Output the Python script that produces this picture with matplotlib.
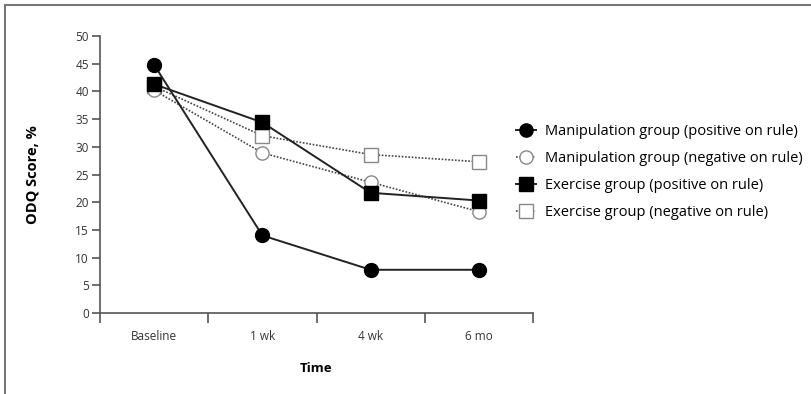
import matplotlib.pyplot as plt
from matplotlib.lines import Line2D
from matplotlib.patches import Rectangle

plt.rcParams['font.family'] = ['Open Sans', 'DejaVu Sans']

# Data
time_points = ['Baseline', '1 wk', '4 wk', '6 mo']
manip_pos = [44.8, 14.0, 7.8, 7.8]
manip_neg = [40.2, 28.9, 23.6, 18.3]
exer_pos = [41.3, 34.4, 21.7, 20.3]
exer_neg = [40.9, 32.0, 28.6, 27.3]
labels = ['Manipulation group (positive on rule)',
          'Manipulation group (negative on rule)',
          'Exercise group (positive on rule)',
          'Exercise group (negative on rule)']

fig = plt.figure(figsize=(8.11, 3.94), dpi=100)
# outer frame of the figure
fig.patches.append(Rectangle((5 / 811, -0.1), 1.2, 1.1 - 5 / 394, transform=fig.transFigure,
                             fill=False, edgecolor='#777777', linewidth=1.5, zorder=0))
ax = fig.add_axes([100 / 811, 1 - 313 / 394, 433 / 811, 277 / 394])

x = list(range(len(time_points)))
ms = 9.5
solid = dict(color='#222222', linewidth=1.4, linestyle='-')
dotted = dict(color='#444444', linewidth=1.2, linestyle=(0, (1, 1)))

ax.plot(x, exer_neg, marker='s', markersize=ms, markerfacecolor='white',
        markeredgecolor='#888888', markeredgewidth=1.0, clip_on=False, zorder=3, **dotted)
ax.plot(x, manip_neg, marker='o', markersize=ms, markerfacecolor='white',
        markeredgecolor='#888888', markeredgewidth=1.0, clip_on=False, zorder=4, **dotted)
ax.plot(x, exer_pos, marker='s', markersize=ms, markerfacecolor='black',
        markeredgecolor='black', clip_on=False, zorder=5, **solid)
ax.plot(x, manip_pos, marker='o', markersize=ms + 0.5, markerfacecolor='black',
        markeredgecolor='black', clip_on=False, zorder=6, **solid)

ax.set_xlim(-0.5, 3.5)
ax.set_ylim(0, 50)
ax.set_yticks(range(0, 51, 5))
ax.set_xticks(x)
ax.set_xticklabels(time_points)
ax.set_xticks([-0.5, 0.5, 1.5, 2.5, 3.5], minor=True)
ax.tick_params(axis='x', which='major', length=0, pad=12, labelsize=8.5, labelcolor='#333333')
ax.tick_params(axis='x', which='minor', length=7, width=1.2, color='#555555')
ax.tick_params(axis='y', length=6, width=1.2, color='#555555', labelsize=8.5,
               labelcolor='#333333', pad=2)

for side in ['top', 'right']:
    ax.spines[side].set_visible(False)
for side in ['left', 'bottom']:
    ax.spines[side].set_color('#555555')
    ax.spines[side].set_linewidth(1.2)

ax.set_ylabel('ODQ Score, %', fontsize=10.5, fontweight='bold', labelpad=26)
ax.set_xlabel('Time', fontsize=9.5, fontweight='bold', labelpad=14)

handles = [
    Line2D([], [], marker='o', markersize=ms, markerfacecolor='black', markeredgecolor='black', **solid),
    Line2D([], [], marker='o', markersize=ms, markerfacecolor='white', markeredgecolor='#888888', **dotted),
    Line2D([], [], marker='s', markersize=ms, markerfacecolor='black', markeredgecolor='black', **solid),
    Line2D([], [], marker='s', markersize=ms, markerfacecolor='white', markeredgecolor='#888888', **dotted),
]
fig.legend(handles, labels, loc='upper left', bbox_to_anchor=(510 / 811, 1 - 118 / 394),
           frameon=False, fontsize=10.5, handlelength=1.4, handletextpad=0.6,
           labelspacing=0.82, borderaxespad=0)

fig.savefig('out.png', dpi=100)
